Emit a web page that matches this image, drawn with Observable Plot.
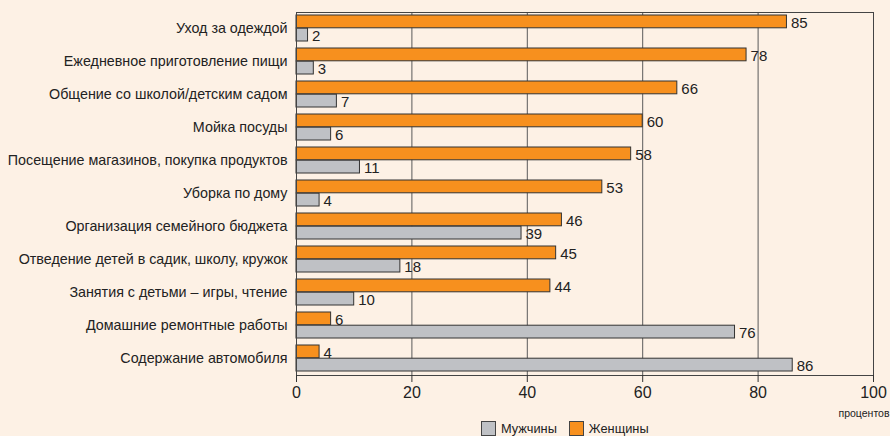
<!DOCTYPE html>
<html><head><meta charset="utf-8">
<script src="https://cdn.jsdelivr.net/npm/d3@7"></script>
<script src="https://cdn.jsdelivr.net/npm/@observablehq/plot@0.6"></script>
<style>
html,body{margin:0;padding:0;background:#fdf1e5;}
body{width:890px;height:436px;overflow:hidden;font-family:"Liberation Sans",Arial,sans-serif;}
#legend{height:16px;display:flex;align-items:center;padding-left:481px;font-size:12.8px;color:#222;}
.sw{width:15px;height:15px;border:1px solid #444;display:inline-block;margin-right:5px;box-sizing:border-box;}
.item{display:flex;align-items:center;margin-right:12px;}
</style></head>
<body>
<div id="chart"></div>
<div id="legend"></div>
<script>
const categories = [
  "Уход за одеждой",
  "Ежедневное приготовление пищи",
  "Общение со школой/детским садом",
  "Мойка посуды",
  "Посещение магазинов, покупка продуктов",
  "Уборка по дому",
  "Организация семейного бюджета",
  "Отведение детей в садик, школу, кружок",
  "Занятия с детьми – игры, чтение",
  "Домашние ремонтные работы",
  "Содержание автомобиля"
];
const women = [85, 78, 66, 60, 58, 53, 46, 45, 44, 6, 4];
const men = [2, 3, 7, 6, 11, 4, 39, 18, 10, 76, 86];
const xTicks = [0, 20, 40, 60, 80, 100];
const seriesNames = ["Мужчины", "Женщины"];
const colors = ["#bfc1c5", "#f7901e"];
const unitLabel = ["процентов"];

const W = categories.map((c, i) => ({cat: c, v: women[i]}));
const M = categories.map((c, i) => ({cat: c, v: men[i]}));

const H = 420, mT = 12, mB = 45;
const bw = (H - mT - mB) / categories.length * 0.8;
const q = bw / 4;
const FF = '"Liberation Sans",Arial,sans-serif';

const chart = Plot.plot({
  width: 890,
  height: H,
  marginLeft: 296,
  marginRight: 17,
  marginTop: mT,
  marginBottom: mB,
  style: {background: "transparent", fontFamily: FF, color: "#222"},
  x: {domain: [0, 100], ticks: xTicks},
  y: {domain: categories, paddingInner: 0.2, paddingOuter: 0.1},
  marks: [
    Plot.gridX(xTicks.slice(1, -1), {stroke: "#5a5a5a", strokeOpacity: 1, strokeWidth: 1}),
    Plot.barX(W, {x: "v", y: "cat", fill: colors[1], stroke: "#333", strokeWidth: 1, insetBottom: bw / 2}),
    Plot.barX(M, {x: "v", y: "cat", fill: colors[0], stroke: "#333", strokeWidth: 1, insetTop: bw / 2}),
    Plot.text(W, {x: "v", y: "cat", text: d => String(d.v), dx: 4, dy: -q + 1, textAnchor: "start", fontSize: 15, fill: "#222"}),
    Plot.text(M, {x: "v", y: "cat", text: d => String(d.v), dx: 4, dy: q + 1, textAnchor: "start", fontSize: 15, fill: "#222"}),
    Plot.frame({stroke: "#444", strokeWidth: 1}),
    Plot.axisY({tickSize: 0, tickPadding: 9, fontSize: 14.3, label: null}),
    Plot.axisX({ticks: xTicks, tickSize: 7, tickPadding: 4, fontSize: 16, label: null, stroke: "#333"}),
    Plot.ruleY([0], {frameAnchor: "bottom", stroke: "#333"}),
    Plot.text(unitLabel, {frameAnchor: "bottom-right", dx: 16, dy: 41, textAnchor: "end", fontSize: 10.5, fill: "#222"})
  ]
});
document.getElementById("chart").appendChild(chart);

const lg = document.getElementById("legend");
seriesNames.forEach((n, i) => {
  const it = document.createElement("span");
  it.className = "item";
  const sw = document.createElement("span");
  sw.className = "sw";
  sw.style.background = colors[i];
  it.appendChild(sw);
  it.appendChild(document.createTextNode(n));
  lg.appendChild(it);
});
</script>
</body></html>
